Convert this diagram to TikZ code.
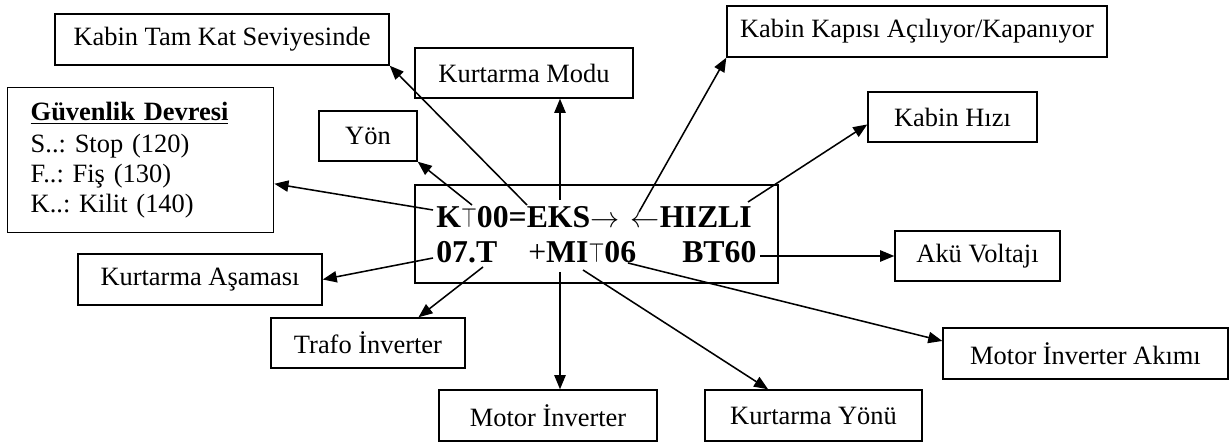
\documentclass[tikz,border=0pt]{standalone}
\usepackage{fontspec}
\setmainfont{Liberation Serif}
\usepackage{graphicx}
\usepackage{tikz}
\usetikzlibrary{positioning,calc,arrows.meta}

\newdimen\px \px=0.025cm
\newcommand{\thinT}{\scalebox{0.7}[0.95]{\mdseries$\top$}}
\frenchspacing

\begin{document}
\begin{tikzpicture}[x=0.025cm, y=-0.025cm,
    box/.style={draw, line width=1pt, inner sep=0pt, font=\fontsize{18.8}{21.3}\selectfont},
    arr/.style={line width=1.1pt, -{Triangle[length=10pt,width=8pt]}},
    lcdtxt/.style={inner sep=0pt, anchor=base west, font=\fontsize{22.6}{27}\selectfont\bfseries}]
  \useasboundingbox (0,0) rectangle (1230,444);

  % display
  \node[draw, line width=2pt, minimum width=363\px, minimum height=98\px] (lcd) at (596.5,234) {};
  \node[lcdtxt] (row1) at (436,228) {K\thinT00=EKS{\mdseries$\rightarrow$}\hspace{8pt}{\mdseries$\leftarrow$}HIZLI};
  \node[lcdtxt] (row2a) at (436,263) {07.T};
  \node[lcdtxt] (row2b) at (528,263) {{\mdseries+}MI\thinT06};
  \node[lcdtxt] (row2c) at (682,263) {BT60};

  % labels above
  \node[box, minimum width=334\px, minimum height=51\px] (tam) at (222,39.5) {Kabin Tam Kat Seviyesinde};
  \node[box, anchor=north west, align=left, text width=220\px, inner xsep=23\px,
        minimum width=266\px, minimum height=145\px] (guv) at (7,87)
    {\underline{\textbf{Güvenlik Devresi}}\\[1pt] S..: Stop (120)\\ F..: Fiş (130)\\ K..: Kilit (140)};
  \node[box, minimum width=98\px, minimum height=50\px] (yon) at (368,136) {Yön};
  \node[box, minimum width=218\px, minimum height=50\px] (modu) at (524,73) {Kurtarma Modu};
  \node[box, minimum width=380\px, minimum height=51\px] (kapi) at (917,31.5) {Kabin Kapısı Açılıyor/Kapanıyor};
  \node[box, minimum width=169\px, minimum height=50\px] (hiz) at (952.5,117) {Kabin Hızı};

  % labels below
  \node[box, minimum width=165\px, minimum height=50\px] (aku) at (977.5,256) {Akü Voltajı};
  \node[box, minimum width=244\px, minimum height=51\px] (asama) at (200,279.5) {Kurtarma Aşaması};
  \node[box, minimum width=194\px, minimum height=50\px] (trafo) at (368,343) {Trafo İnverter};
  \node[box, minimum width=218\px, minimum height=51\px] (motor) at (548,415.5) {Motor İnverter};
  \node[box, minimum width=217\px, minimum height=51\px] (yonu) at (813.5,415.5) {Kurtarma Yönü};
  \node[box, minimum width=285\px, minimum height=51\px] (akim) at (1085.5,353.5) {Motor İnverter Akımı};

  % where the arrows leave the display
  \coordinate (sGuv) at (433,210);
  \coordinate (sYon) at (472,205);
  \coordinate (sTam) at (527,205);
  \coordinate (sModu) at (560,200);
  \coordinate (sKapi) at (639,212);
  \coordinate (sHiz) at (748,202);
  \coordinate (sAku) at (760,256);
  \coordinate (sAkim) at (628,263);
  \coordinate (sYonu) at (583,270);
  \coordinate (sMotor) at (560,272);
  \coordinate (sTrafo) at (483,267);
  \coordinate (sAsama) at (433,258);

  \draw[arr] (sGuv) -- (guv.-10);
  \draw[arr] (sYon) -- (yon.south east);
  \draw[arr] (sTam) -- (tam.south east);
  \draw[arr] (sModu) -- (modu.south -| sModu);
  \draw[arr] (sKapi) -- (kapi.south west);
  \draw[arr] (sHiz) -- (hiz.185);
  \draw[arr] (sAku) -- (aku.west);
  \draw[arr] (sAkim) -- (akim.175);
  \draw[arr] (sYonu) -- (yonu.150);
  \draw[arr] (sMotor) -- (motor.north -| sMotor);
  \draw[arr] (sTrafo) -- (trafo.27);
  \draw[arr] (sAsama) -- (asama.east);
\end{tikzpicture}
\end{document}
